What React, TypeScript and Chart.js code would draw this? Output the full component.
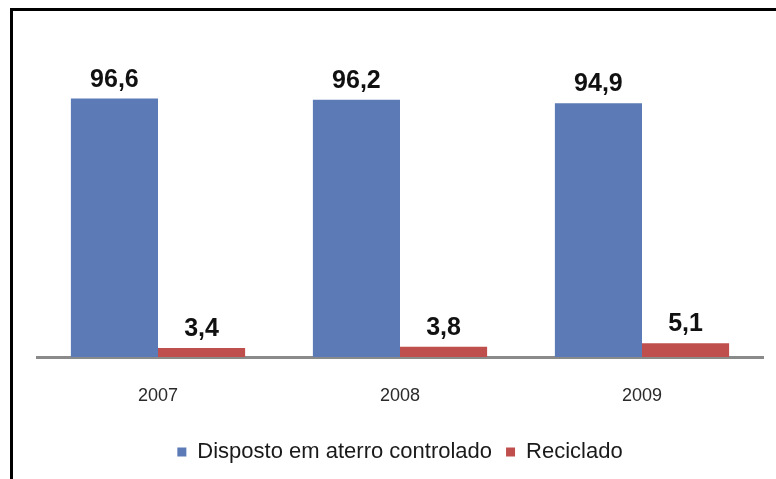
import React, { useEffect, useRef } from "react";
import { Chart, registerables } from "chart.js";

Chart.register(...registerables);

const categories = ["2007", "2008", "2009"];
const dispostoValues = [96.6, 96.2, 94.9];
const recicladoValues = [3.4, 3.8, 5.1];
const seriesNames = ["Disposto em aterro controlado", "Reciclado"];

const fmt = (v: number) => v.toFixed(1).replace(".", ",");
const FONT = "'Liberation Sans', Arial, sans-serif";

const labelPlugin = {
  id: "barLabels",
  afterDatasetsDraw(chart: any) {
    const ctx = chart.ctx;
    ctx.save();
    ctx.font = "bold 25px " + FONT;
    ctx.fillStyle = "#111";
    ctx.textAlign = "center";
    ctx.textBaseline = "alphabetic";
    chart.data.datasets.forEach((ds: any, i: number) => {
      const meta = chart.getDatasetMeta(i);
      meta.data.forEach((bar: any, j: number) => {
        ctx.fillText(fmt(ds.data[j]), bar.x, bar.y - 12);
      });
    });
    ctx.restore();
  },
};

export default function App() {
  const ref = useRef<HTMLCanvasElement>(null);
  useEffect(() => {
    document.body.style.margin = "0";
    const chart = new Chart(ref.current!, {
      type: "bar",
      data: {
        labels: categories,
        datasets: [
          { label: seriesNames[0], data: dispostoValues, backgroundColor: "#5B7AB6" },
          { label: seriesNames[1], data: recicladoValues, backgroundColor: "#BE4F4C" },
        ],
      },
      options: {
        animation: false,
        responsive: false,
        layout: { padding: { left: 37, right: 13, top: 36, bottom: 6 } },
        datasets: { bar: { barPercentage: 1, categoryPercentage: 0.72 } },
        scales: {
          x: {
            grid: { display: false },
            border: { display: true, color: "#8a8a8a", width: 3 },
            ticks: { color: "#2a2a2a", padding: 20, font: { size: 18, family: FONT } },
            afterFit(scale: any) { scale.height = 70; },
          },
          y: { display: false, min: 0, max: 120 },
        },
        plugins: {
          legend: {
            position: "bottom",
            labels: {
              boxWidth: 9,
              boxHeight: 9,
              padding: 14,
              color: "#1a1a1a",
              font: { size: 22, family: FONT },
            },
          },
          tooltip: { enabled: false },
        },
      },
      plugins: [labelPlugin],
    });
    return () => chart.destroy();
  }, []);
  return (
    <div style={{ position: "relative", width: 776, height: 479, background: "#fff" }}>
      <canvas ref={ref} width={776} height={479} style={{ display: "block" }} />
      <div style={{ position: "absolute", left: 10, top: 8, width: 766, height: 3, background: "#000" }} />
      <div style={{ position: "absolute", left: 10, top: 8, width: 3, height: 471, background: "#000" }} />
    </div>
  );
}
